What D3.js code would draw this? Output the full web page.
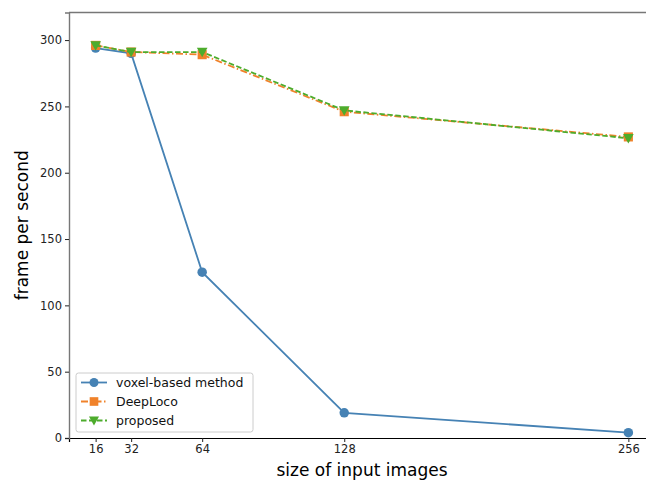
<!DOCTYPE html>
<html><head><meta charset="utf-8">
<script src="https://cdn.jsdelivr.net/npm/d3@7"></script>
<style>body{margin:0;background:#fff}svg{display:block;font-family:"DejaVu Sans",sans-serif}</style>
</head><body><svg id="c" width="646" height="481"></svg>
<script>
const sizes = [16, 32, 64, 128, 256];
const voxel = [294, 290, 125, 19, 4];
const deeploco = [296, 291, 289, 246, 227];
const proposed = [296, 291, 291, 247, 226];
const seriesNames = ["voxel-based method", "DeepLoco", "proposed"];
const yTicks = [0, 50, 100, 150, 200, 250, 300];
const colors = ["#4682b4", "#f0822a", "#4dac2c"];

const svg = d3.select("#c");
const L = 69, R = 655, T = 12.5, B = 438;
const x = d3.scaleLinear().domain([4, 268]).range([L, R]);
const y = d3.scaleLinear().domain([0, 320.8]).range([B, T]);

// spines
svg.append("line").attr("x1", L).attr("x2", R).attr("y1", T).attr("y2", T).attr("stroke", "#777").attr("stroke-width", 1.4);
svg.append("line").attr("x1", R).attr("x2", R).attr("y1", T).attr("y2", B).attr("stroke", "#777").attr("stroke-width", 1.4);

const gx = svg.append("g").attr("transform", `translate(0,${B})`)
  .call(d3.axisBottom(x).tickValues(sizes).tickFormat(d3.format("d")).tickSizeOuter(0).tickSize(4).tickPadding(3));
gx.select(".domain").attr("stroke", "#000").attr("stroke-width", 1.2);
const gy = svg.append("g").attr("transform", `translate(${L},0)`)
  .call(d3.axisLeft(y).tickValues(yTicks).tickSizeOuter(0).tickSize(4).tickPadding(3));
gy.select(".domain").attr("stroke", "#777").attr("stroke-width", 1.4);
svg.selectAll(".tick text").attr("font-size", 11.5).attr("fill", "#222").attr("font-family", "DejaVu Sans");
svg.selectAll(".tick line").attr("stroke", "#222");

svg.append("text").attr("x", (L + R) / 2).attr("y", 476).attr("text-anchor", "middle")
  .attr("font-size", 17).text("size of input images");
svg.append("text").attr("transform", `translate(27.5,${(T + B) / 2}) rotate(-90)`).attr("text-anchor", "middle")
  .attr("font-size", 17).text("frame per second");

const data = [voxel, deeploco, proposed];
const dashes = [null, "7,2.5,1.5,2.5", "5.5,2.5"];
const line = d3.line().x((d, i) => x(sizes[i])).y(d => y(d));

function marker(g, k, cx, cy, s) {
  if (k === 0) g.append("circle").attr("cx", cx).attr("cy", cy).attr("r", s * 0.5).attr("fill", colors[0]);
  else if (k === 1) g.append("rect").attr("x", cx - s * 0.48).attr("y", cy - s * 0.48).attr("width", s * 0.96).attr("height", s * 0.96).attr("fill", colors[1]);
  else {
    const h = s * 0.56;
    g.append("path").attr("d", `M${cx - h},${cy - h * 0.8}L${cx + h},${cy - h * 0.8}L${cx},${cy + h * 1.0}Z`).attr("fill", colors[2]);
  }
}

data.forEach((vals, k) => {
  svg.append("path").datum(vals).attr("d", line).attr("fill", "none")
    .attr("stroke", colors[k]).attr("stroke-width", 1.8).attr("stroke-dasharray", dashes[k]);
  const g = svg.append("g");
  vals.forEach((v, i) => marker(g, k, x(sizes[i]), y(v), 9.5));
});

// legend
const lg = svg.append("g");
lg.append("rect").attr("x", 76).attr("y", 373).attr("width", 177).attr("height", 59).attr("rx", 2.5)
  .attr("fill", "#fff").attr("fill-opacity", 0.8).attr("stroke", "#ccc").attr("stroke-width", 1);
seriesNames.forEach((n, k) => {
  const yy = 382.5 + k * 19;
  lg.append("line").attr("x1", 81).attr("x2", 107).attr("y1", yy).attr("y2", yy)
    .attr("stroke", colors[k]).attr("stroke-width", 1.8).attr("stroke-dasharray", dashes[k]);
  marker(lg, k, 94, yy, 9);
  lg.append("text").attr("x", 116).attr("y", yy + 4.3).attr("font-size", 12.5).attr("fill", "#111").text(n);
});
</script></body></html>
